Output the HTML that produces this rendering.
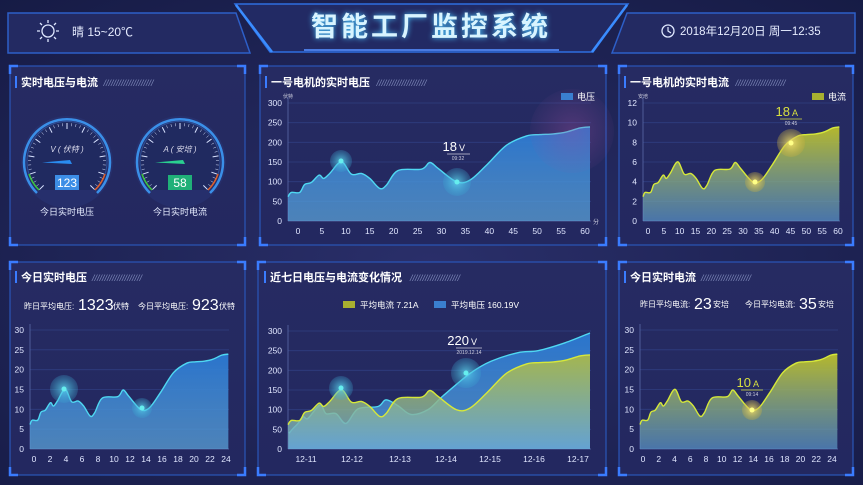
<!DOCTYPE html>
<html><head><meta charset="utf-8"><style>
html,body{margin:0;padding:0;background:#1b2150;}
svg{display:block;font-family:"Liberation Sans","Noto Sans CJK SC",sans-serif;}
</style></head><body>
<svg id="s" width="863" height="485" viewBox="0 0 863 485" xmlns="http://www.w3.org/2000/svg">
<defs>
<radialGradient id="bg" cx="0.5" cy="0.55" r="0.75"><stop offset="0" stop-color="#2a2f6a"/><stop offset="1" stop-color="#161b45"/></radialGradient>
<linearGradient id="gb" x1="0" y1="0" x2="0" y2="1"><stop offset="0" stop-color="#2a78d2" stop-opacity="0.95"/><stop offset="1" stop-color="#5aa0d6" stop-opacity="0.75"/></linearGradient>
<linearGradient id="gy" x1="0" y1="0" x2="0" y2="1"><stop offset="0" stop-color="#bcbf2a" stop-opacity="0.95"/><stop offset="1" stop-color="#5a96c8" stop-opacity="0.7"/></linearGradient>
<linearGradient id="gy2" x1="0" y1="0" x2="0" y2="1"><stop offset="0" stop-color="#b8c03a" stop-opacity="0.85"/><stop offset="1" stop-color="#6aaad8" stop-opacity="0.8"/></linearGradient>
<radialGradient id="glowB"><stop offset="0" stop-color="#5fd8f0" stop-opacity="0.8"/><stop offset="1" stop-color="#3aa6d0" stop-opacity="0.25"/></radialGradient>
<radialGradient id="glowY"><stop offset="0" stop-color="#f0e070" stop-opacity="0.9"/><stop offset="1" stop-color="#c8b040" stop-opacity="0.3"/></radialGradient>
<radialGradient id="glowP"><stop offset="0" stop-color="#a050a0" stop-opacity="0.35"/><stop offset="1" stop-color="#a050a0" stop-opacity="0.05"/></radialGradient>
<linearGradient id="pan" x1="0" y1="0" x2="0" y2="1"><stop offset="0" stop-color="#262b62"/><stop offset="1" stop-color="#232860"/></linearGradient>
</defs>
<rect width="863" height="485" fill="url(#bg)"/>
<!-- header -->
<path d="M8 13 H236 L250 53 H8 Z" fill="#232a62" stroke="#2d5fc8" stroke-width="1.5"/>
<path d="M627 13 H855 V53 H612 Z" fill="#232a62" stroke="#2d5fc8" stroke-width="1.5"/>
<path d="M235 4 H628 L593 52 H270 Z" fill="#222a64" stroke="#2e6ee0" stroke-width="1.5"/>
<path d="M236 5 L272 52" stroke="#3a8cff" stroke-width="2.5"/><path d="M627 5 L592 52" stroke="#3a8cff" stroke-width="2.5"/>
<rect x="304" y="49" width="255" height="2" fill="#4a7ae0"/>
<text x="431" y="36" text-anchor="middle" font-size="27" font-weight="bold" fill="#d8f4ff" letter-spacing="3" style="filter:drop-shadow(0 0 3px #4cc6ff)">智能工厂监控系统</text>
<g stroke="#dfe8ff" stroke-width="1.3" fill="none"><circle cx="48" cy="31" r="6"/>
<path d="M48 20v3M48 39v3M37 31h3M56 31h3M40 23l2 2M54 37l2 2M40 39l2-2M54 25l2-2"/></g>
<text x="72" y="36" font-size="12" fill="#e6ecff">晴  15~20℃</text>
<circle cx="668" cy="31" r="6" fill="none" stroke="#dfe8ff" stroke-width="1.3"/><path d="M668 27v4l3 2" stroke="#dfe8ff" stroke-width="1.2" fill="none"/>
<text x="680" y="35" font-size="11.5" fill="#e6ecff">2018年12月20日 周一12:35</text>
<g id="panels"></g>
<g id="charts"></g>
</svg>
<script>
const NS="http://www.w3.org/2000/svg",S=document.getElementById('s');
function el(t,a,p){const e=document.createElementNS(NS,t);for(const k in a)e.setAttribute(k,a[k]);(p||S).appendChild(e);return e;}
function txt(x,y,s,a){const e=el('text',Object.assign({x:x,y:y},a||{}));e.textContent=s;return e;}
// panels
[[10,66,235,179],[260,66,346,179],[619,66,234,179],[10,262,235,213],[258,262,348,213],[619,262,234,213]].forEach(([x,y,w,h])=>{
 el('rect',{x:x,y:y,width:w,height:h,fill:'url(#pan)',stroke:'#2a56b8','stroke-width':1.2});
 const c='#3a7cff';
 el('path',{d:`M${x} ${y+8}V${y}H${x+8}M${x+w-8} ${y}H${x+w}V${y+8}M${x} ${y+h-8}V${y+h}H${x+8}M${x+w-8} ${y+h}H${x+w}V${y+h-8}`,stroke:c,'stroke-width':2.5,fill:'none'});
});
function title(x,y,s,w){el('rect',{x:x,y:y-10,width:2,height:12,fill:'#3a7cff'});
 const t=txt(x+6,y,s,{'font-size':11,fill:'#fff','font-weight':'bold'});
 txt(x+8+s.length*11.5,y,'////////////////////',{'font-size':9,fill:'#7d88b8','font-style':'italic'});}
title(15,86,'实时电压与电流');title(265,86,'一号电机的实时电压');title(624,86,'一号电机的实时电流');
title(15,281,'今日实时电压');title(264,281,'近七日电压与电流变化情况');title(624,281,'今日实时电流');
// base shape
const Z=[[85,395],[95,382],[120,382],[135,358],[155,352],[178,330],[192,340],[210,325],[245,290],[275,327],[305,325],[330,340],[360,370],[380,360],[415,316],[485,312],[510,292],[535,310],[590,350],[630,345],[680,300],[740,240],[800,212],[840,208],[880,206],[920,200],[960,188],[990,185]];
const N=Z.map(([x,y])=>[(x-85)/(993-85),(468-y)/(468-113)]);
function smooth(p){let d=`M${p[0][0]} ${p[0][1]}`;for(let i=0;i<p.length-1;i++){const a=p[Math.max(0,i-1)],b=p[i],c=p[i+1],e=p[Math.min(p.length-1,i+2)];
 d+=` C${b[0]+(c[0]-a[0])/6} ${b[1]+(c[1]-a[1])/6} ${c[0]-(e[0]-b[0])/6} ${c[1]-(e[1]-b[1])/6} ${c[0]} ${c[1]}`;}return d;}
function axes(x0,x1,y0,yt,ticks,xl,xlx){
 const n=ticks.length-1;
 ticks.forEach((t,i)=>{const y=y0-(y0-yt)*i/n;
  if(i>0)el('line',{x1:x0,x2:x1,y1:y,y2:y,stroke:'#34478e','stroke-width':0.8,opacity:0.7});
  txt(x0-6,y+3,t,{'font-size':8.5,fill:'#e0e6ff','text-anchor':'end'});});
 el('line',{x1:x0,x2:x0,y1:yt-6,y2:y0,stroke:'#5a6aa8','stroke-width':0.8});
 el('line',{x1:x0,x2:x1,y1:y0,y2:y0,stroke:'#5a6aa8','stroke-width':0.8});
 xl.forEach((t,i)=>txt(xlx[i],y0+13,t,{'font-size':8.5,fill:'#e0e6ff','text-anchor':'middle'}));
}
function series(pts,x0,x1,y0,yt,fill,line){const p=pts.map(([f,v])=>[x0+f*(x1-x0),y0-v*(y0-yt)]);
 const d=smooth(p);el('path',{d:d+` L${p[p.length-1][0]} ${y0} L${p[0][0]} ${y0} Z`,fill:fill});
 el('path',{d:d,fill:'none',stroke:line,'stroke-width':1.4});}
function glow(x,y,r,g,c){el('circle',{cx:x,cy:y,r:r,fill:g});el('circle',{cx:x,cy:y,r:2.5,fill:c});}
function range(a,b,s){const r=[];for(let i=a;i<=b;i+=s)r.push(i);return r;}
function lin(a,b,n){return range(0,n-1,1).map(i=>a+(b-a)*i/(n-1));}
// A
axes(288,591,221,103,['0','50','100','150','200','250','300'],range(0,60,5).map(String),lin(298,585,13));
series(N,288,591,221,103,'url(#gb)','#4fd8f2');
el('circle',{cx:572,cy:131,r:42,fill:'url(#glowP)'});
glow(341,161,11,'url(#glowB)','#6ee');glow(457,182,14,'url(#glowB)','#6ee');
txt(457,151,'18',{'font-size':13,fill:'#fff','text-anchor':'end'});txt(459,151,'V',{'font-size':9,fill:'#fff'});
el('line',{x1:447,x2:470,y1:154,y2:154,stroke:'#ccd',"stroke-width":0.8});txt(458,160,'09:32',{'font-size':5,fill:'#ccd','text-anchor':'middle'});
txt(283,98,'伏特',{'font-size':5,fill:'#ccd'});txt(593,224,'分',{'font-size':6,fill:'#ccd'});
el('rect',{x:561,y:93,width:12,height:7,fill:'#3a7fd0'});txt(577,100,'电压',{'font-size':9,fill:'#fff'});
// B
axes(643,840,221,103,['0','2','4','6','8','10','12'],range(0,60,5).map(String),lin(648,838,13));
series(N,643,840,221,103,'url(#gy)','#d6e83a');
glow(755,182,10,'url(#glowY)','#ff8');glow(791,143,14,'url(#glowY)','#ff8');
txt(790,116,'18',{'font-size':13,fill:'#d8e040','text-anchor':'end'});txt(792,116,'A',{'font-size':9,fill:'#d8e040'});
el('line',{x1:780,x2:802,y1:119,y2:119,stroke:'#d8e040',"stroke-width":0.8});txt(791,125,'09:45',{'font-size':5,fill:'#ccd','text-anchor':'middle'});
txt(638,98,'安培',{'font-size':5,fill:'#ccd'});
el('rect',{x:812,y:93,width:12,height:7,fill:'#a8b030'});txt(828,100,'电流',{'font-size':9,fill:'#fff'});
// gauges
function gauge(cx,cy,lab,val,bc,nc){
 el('circle',{cx:cx,cy:cy,r:46,fill:'#2c3c80',opacity:0.35});
 el('path',{d:`M${cx-30} ${cy+31} A43 43 0 1 1 ${cx+30} ${cy+31}`,fill:'none',stroke:'#3a8fe8','stroke-width':2.5});
 el('path',{d:`M${cx-28} ${cy+28} A40 40 0 1 1 ${cx+28} ${cy+28}`,fill:'#202a60',stroke:'#2f4f98','stroke-width':1});
 for(let i=0;i<=40;i++){const a=(225-270*i/40)*Math.PI/180,r1=39,r2=i%4==0?33:36;
  el('line',{x1:cx+r1*Math.cos(a),y1:cy-r1*Math.sin(a),x2:cx+r2*Math.cos(a),y2:cy-r2*Math.sin(a),stroke:'#d8e2ff','stroke-width':i%4==0?1:0.5});}
 el('path',{d:`M${cx-28} ${cy+28} A40 40 0 0 1 ${cx-38} ${cy+12}`,fill:'none',stroke:'#3cc83c','stroke-width':1.5});
 el('path',{d:`M${cx+28} ${cy+28} A40 40 0 0 0 ${cx+38} ${cy+12}`,fill:'none',stroke:'#e0602a','stroke-width':1.5});
 txt(cx,cy-10,lab,{'font-size':8,fill:'#dde','text-anchor':'middle','font-style':'italic'});
 el('path',{d:`M${cx-25} ${cy+0.5} L${cx+3} ${cy-2} L${cx+5} ${cy+2} Z`,fill:nc});
 el('rect',{x:cx-12,y:cy+13,width:24,height:15,fill:bc});
 txt(cx,cy+25,val,{'font-size':12,fill:'#fff','text-anchor':'middle'});
}
gauge(67,162,'V ( 伏特 )','123','#3d8ee6','#2a8cf0');gauge(180,162,'A ( 安培 )','58','#20b078','#2ad090');
txt(67,215,'今日实时电压',{'font-size':9,fill:'#e6ecff','text-anchor':'middle'});txt(180,215,'今日实时电流',{'font-size':9,fill:'#e6ecff','text-anchor':'middle'});
// C
axes(30,229,449,330,['0','5','10','15','20','25','30'],range(0,24,2).map(String),lin(34,226,13));
series(N,30,229,449,330,'url(#gb)','#4fd8f2');
glow(64,389,14,'url(#glowB)','#6ee');glow(142,408,10,'url(#glowB)','#6ee');
txt(24,309,'昨日平均电压:',{'font-size':8,fill:'#fff'});txt(78,310,'1323',{'font-size':16,fill:'#fff'});txt(113,309,'伏特',{'font-size':8,fill:'#fff'});
txt(138,309,'今日平均电压:',{'font-size':8,fill:'#fff'});txt(192,310,'923',{'font-size':16,fill:'#fff'});txt(219,309,'伏特',{'font-size':8,fill:'#fff'});
// E
axes(640,838,449,330,['0','5','10','15','20','25','30'],range(0,24,2).map(String),lin(643,832,13));
series(N,640,838,449,330,'url(#gy)','#d6e83a');
glow(752,410,10,'url(#glowY)','#ff8');
txt(751,387,'10',{'font-size':13,fill:'#d8e040','text-anchor':'end'});txt(753,387,'A',{'font-size':9,fill:'#d8e040'});
el('line',{x1:741,x2:763,y1:390,y2:390,stroke:'#d8e040',"stroke-width":0.8});txt(752,396,'09:14',{'font-size':5,fill:'#ccd','text-anchor':'middle'});
txt(640,307,'昨日平均电流:',{'font-size':8,fill:'#fff'});txt(694,309,'23',{'font-size':16,fill:'#fff'});txt(713,307,'安培',{'font-size':8,fill:'#fff'});
txt(745,307,'今日平均电流:',{'font-size':8,fill:'#fff'});txt(799,309,'35',{'font-size':16,fill:'#fff'});txt(818,307,'安培',{'font-size':8,fill:'#fff'});
// D
axes(288,591,449,331,['0','50','100','150','200','250','300'],['12-11','12-12','12-13','12-14','12-15','12-16','12-17'],[306,352,400,446,490,534,578]);
const B=[[289,40],[293,52],[298,65],[303,82],[308,78],[320,112],[326,90],[336,90],[346,65],[358,102],[378,108],[386,125],[398,110],[411,88],[428,100],[443,135],[470,192],[491,223],[518,245],[538,250],[565,270],[590,295]];
series(B.map(([x,v])=>[(x-288)/303,v/300]),288,591,449,331,'url(#gb)','#4fd8f2');
series(N,288,591,449,331,'url(#gy2)','#d6e83a');
glow(341,388,12,'url(#glowB)','#6ee');glow(466,373,15,'url(#glowB)','#6ee');
txt(469,345,'220',{'font-size':13,fill:'#fff','text-anchor':'end'});txt(471,345,'V',{'font-size':9,fill:'#fff'});
el('line',{x1:456,x2:482,y1:348,y2:348,stroke:'#ccd',"stroke-width":0.8});txt(469,354,'2019.12.14',{'font-size':5,fill:'#ccd','text-anchor':'middle'});
el('rect',{x:343,y:301,width:12,height:7,fill:'#a8b030'});txt(360,308,'平均电流  7.21A',{'font-size':8.5,fill:'#fff'});
el('rect',{x:434,y:301,width:12,height:7,fill:'#3a7fd0'});txt(451,308,'平均电压  160.19V',{'font-size':8.5,fill:'#fff'});
</script>
</body></html>
